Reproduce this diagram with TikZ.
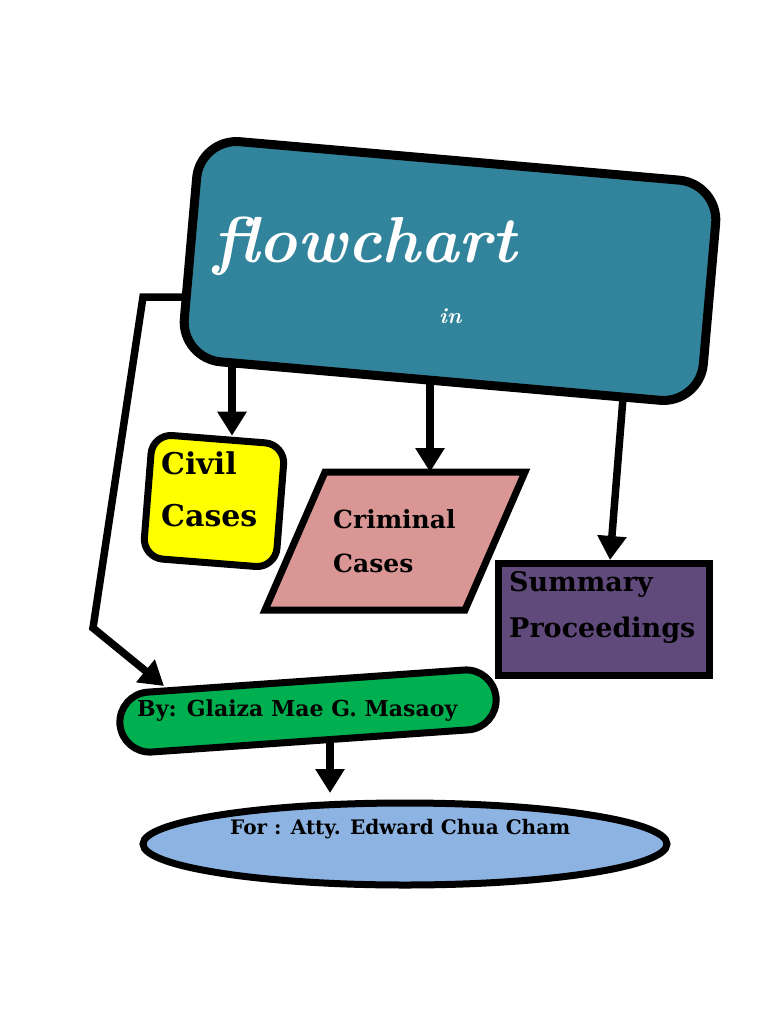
\documentclass[tikz,border=0pt]{standalone}
\usepackage{fontspec}
\newfontfamily\heavy{DejaVu Serif}
\usetikzlibrary{arrows.meta,shapes.geometric}
\definecolor{teal}{HTML}{31849B}
\definecolor{pinkc}{HTML}{D99694}
\definecolor{purplec}{HTML}{604A7B}
\definecolor{greenc}{HTML}{00B050}
\definecolor{bluec}{HTML}{8DB3E2}
\definecolor{yellowc}{HTML}{FFFF00}
\begin{document}
\begin{tikzpicture}[x=1pt,y=-1pt,
  box/.style={draw=black,line width=7pt,inner sep=0pt},
  lbl/.style={anchor=base west,inner sep=0pt,font=\heavy\bfseries},
  conn/.style={line width=7.5pt,-{Triangle[length=24pt,width=28pt]}}]
\useasboundingbox (0,0) rectangle (768,1024);
% main box
\node[box,line width=9pt,fill=teal,rounded corners=40pt,minimum width=521pt,minimum height=221pt,rotate=-5] (main) at (450,271) {};
\node[anchor=base west,inner sep=0pt,text=white,font=\fontsize{65}{65}\selectfont\bfseries\itshape] (title) at (213,262) {flowchart};
\node[anchor=base west,inner sep=0pt,text=white,font=\fontsize{22}{22}\selectfont\bfseries\itshape] (in) at (439,323) {in};
% civil
\node[box,fill=yellowc,rounded corners=20pt,minimum width=133pt,minimum height=124pt,rotate=-4.5] (civil) at (214,501) {};
\node[lbl,font=\heavy\bfseries\fontsize{30}{30}\selectfont] (civ1) at (161,474) {Civil};
\node[lbl,font=\heavy\bfseries\fontsize{30}{30}\selectfont] (civ2) at (161,526) {Cases};
% criminal
\draw[line width=7pt,fill=pinkc] (325,472) -- (525,472) -- (465,610) -- (265,610) -- cycle;
\coordinate (crimtop) at (430,472);
\node[lbl,font=\heavy\bfseries\fontsize{25}{25}\selectfont] (cr1) at (333,528) {Criminal};
\node[lbl,font=\heavy\bfseries\fontsize{25}{25}\selectfont] (cr2) at (333,572) {Cases};
% summary
\node[box,fill=purplec,minimum width=211pt,minimum height=112pt] (summ) at (603.5,619) {};
\node[lbl,font=\heavy\bfseries\fontsize{27}{27}\selectfont] (su1) at (509,591) {Summary};
\node[lbl,font=\heavy\bfseries\fontsize{27}{27}\selectfont] (su2) at (509,637) {Proceedings};
% green
\node[box,fill=greenc,rounded corners=30pt,minimum width=377pt,minimum height=60pt,rotate=4] (by) at (308,711) {};
\node[lbl,font=\heavy\bfseries\fontsize{22}{22}\selectfont] (bytext) at (137,716) {By: Glaiza Mae G. Masaoy};
% ellipse
\node[box,ellipse,fill=bluec,minimum width=524pt,minimum height=82pt] (forn) at (405,844) {};
\node[lbl,font=\heavy\bfseries\fontsize{20}{20}\selectfont] (fortext) at (230,834) {For : Atty. Edward Chua Cham};
% connectors
\coordinate (m1) at (232,362);
\coordinate (m2) at (430,380);
\coordinate (m3) at (623,398);
\coordinate (s3) at (610,560);
\coordinate (mL) at (188,297);
\coordinate (k1) at (143,297);
\coordinate (k2) at (93,628);
\coordinate (gtop) at (164,686);
\coordinate (g1) at (330,738);
\coordinate (etop) at (330,793);
\draw[conn] (m1) -- (m1 |- civil.north);
\draw[conn] (m2) -- (crimtop);
\draw[conn] (m3) -- (s3);
\draw[conn,line join=miter] (mL) -- (k1) -- (k2) -- (gtop);
\draw[conn] (g1) -- (etop);
\end{tikzpicture}
\end{document}
